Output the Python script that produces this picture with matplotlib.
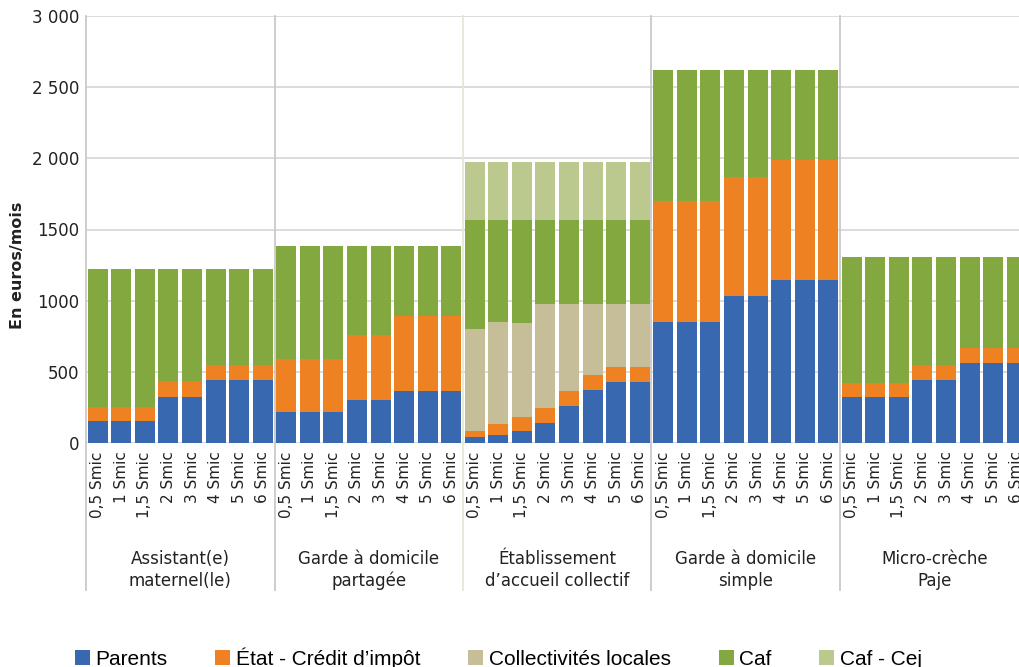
import numpy as np
import matplotlib
matplotlib.use("Agg")
import matplotlib.pyplot as plt
from matplotlib.transforms import blended_transform_factory

# modes de garde et niveaux de revenus
groups = ["Assistant(e)\nmaternel(le)", "Garde à domicile\npartagée",
          "Établissement\nd’accueil collectif", "Garde à domicile\nsimple",
          "Micro-crèche\nPaje"]
incomes = ["0,5 Smic", "1 Smic", "1,5 Smic", "2 Smic", "3 Smic", "4 Smic", "5 Smic", "6 Smic"]

# euros/mois, one row of 8 values per mode de garde
parents = [155, 155, 155, 325, 325, 446, 446, 446,
           220, 220, 220, 304, 304, 368, 368, 368,
           40, 58, 87, 143, 263, 375, 432, 432,
           850, 850, 850, 1035, 1035, 1145, 1145, 1145,
           320, 320, 320, 441, 441, 562, 562, 562]
etat = [100, 100, 100, 110, 110, 102, 102, 102,
        370, 370, 370, 457, 457, 521, 521, 521,
        47, 78, 98, 106, 105, 106, 105, 105,
        850, 850, 850, 835, 835, 845, 845, 845,
        104, 104, 104, 108, 108, 106, 106, 106]
collectivites = [0, 0, 0, 0, 0, 0, 0, 0,
                 0, 0, 0, 0, 0, 0, 0, 0,
                 713, 715, 659, 730, 606, 498, 437, 437,
                 0, 0, 0, 0, 0, 0, 0, 0,
                 0, 0, 0, 0, 0, 0, 0, 0]
caf = [970, 970, 970, 790, 790, 677, 677, 677,
       795, 795, 795, 624, 624, 496, 496, 496,
       765, 714, 721, 586, 591, 586, 591, 591,
       920, 920, 920, 750, 750, 630, 630, 630,
       881, 881, 881, 756, 756, 637, 637, 637]
caf_cej = [0, 0, 0, 0, 0, 0, 0, 0,
           0, 0, 0, 0, 0, 0, 0, 0,
           410, 410, 410, 410, 410, 410, 410, 410,
           0, 0, 0, 0, 0, 0, 0, 0,
           0, 0, 0, 0, 0, 0, 0, 0]

series_names = ["Parents", "État - Crédit d’impôt", "Collectivités locales", "Caf", "Caf - Cej"]
colors = ["#3869B0", "#EE8222", "#C6BD99", "#84A840", "#BBC98F"]

yticks = [0, 500, 1000, 1500, 2000, 2500, 3000]
ytick_labels = ["0", "500", "1000", "1500", "2 000", "2 500", "3 000"]

W, H = 1019, 667
fig = plt.figure(figsize=(W / 100, H / 100), dpi=100)
# the plot area runs a little past the right edge of the figure
ax = fig.add_axes([86 / W, (H - 443) / H, 942.5 / W, 427 / H])

n_per = len(incomes)
x = np.arange(len(groups) * n_per)
bottom = np.zeros(len(x))
handles = []
for vals, name, col in zip([parents, etat, collectivites, caf, caf_cej], series_names, colors):
    vals = np.array(vals, dtype=float)
    b = ax.bar(x, vals, width=0.85, bottom=bottom, color=col, label=name, zorder=2)
    handles.append(b)
    bottom += vals

ax.set_xlim(-0.5, len(x) - 0.5)
ax.set_ylim(0, 3000)
ax.set_yticks(yticks)
ax.set_yticklabels(ytick_labels, fontsize=12, color="#222222")
ax.set_xticks(x)
ax.set_xticklabels(incomes * len(groups), rotation=90, fontsize=11, color="#222222")
ax.tick_params(length=0)
ax.tick_params(axis="x", pad=6)
ax.tick_params(axis="y", pad=5)
ax.yaxis.grid(True, color="#D9D9D9", lw=1.3)
ax.set_axisbelow(True)
for s in ax.spines.values():
    s.set_visible(False)

# group separators running down through the category labels
trans = blended_transform_factory(ax.transData, ax.transAxes)
sep_colors = ["#C9C9C9", "#C9C9C9", "#E4E8D2", "#C9C9C9", "#C9C9C9"]
for i, sc in enumerate(sep_colors):
    xb = i * n_per - 0.5
    ax.plot([xb, xb], [1, -0.344], transform=trans, color=sc, lw=1.3,
            clip_on=False, zorder=1)

for i, g in enumerate(groups):
    ax.text(i * n_per + (n_per - 1) / 2, -0.297, g, transform=trans,
            ha="center", va="center", fontsize=12, linespacing=1.25, color="#222222")

fig.text(18 / W, (H - 265) / H, "En euros/mois", rotation=90, ha="center", va="center",
         fontsize=11.5, fontweight="bold", color="#222222")

fig.legend(handles=handles, labels=series_names, loc="center left",
           bbox_to_anchor=(75 / W, 9 / H), ncol=5, frameon=False,
           handlelength=0.72, handleheight=0.72, handletextpad=0.26,
           columnspacing=2.3, borderaxespad=0, borderpad=0,
           prop={"family": ["Liberation Sans", "DejaVu Sans"], "size": 15})

fig.savefig("out.png", dpi=100)
